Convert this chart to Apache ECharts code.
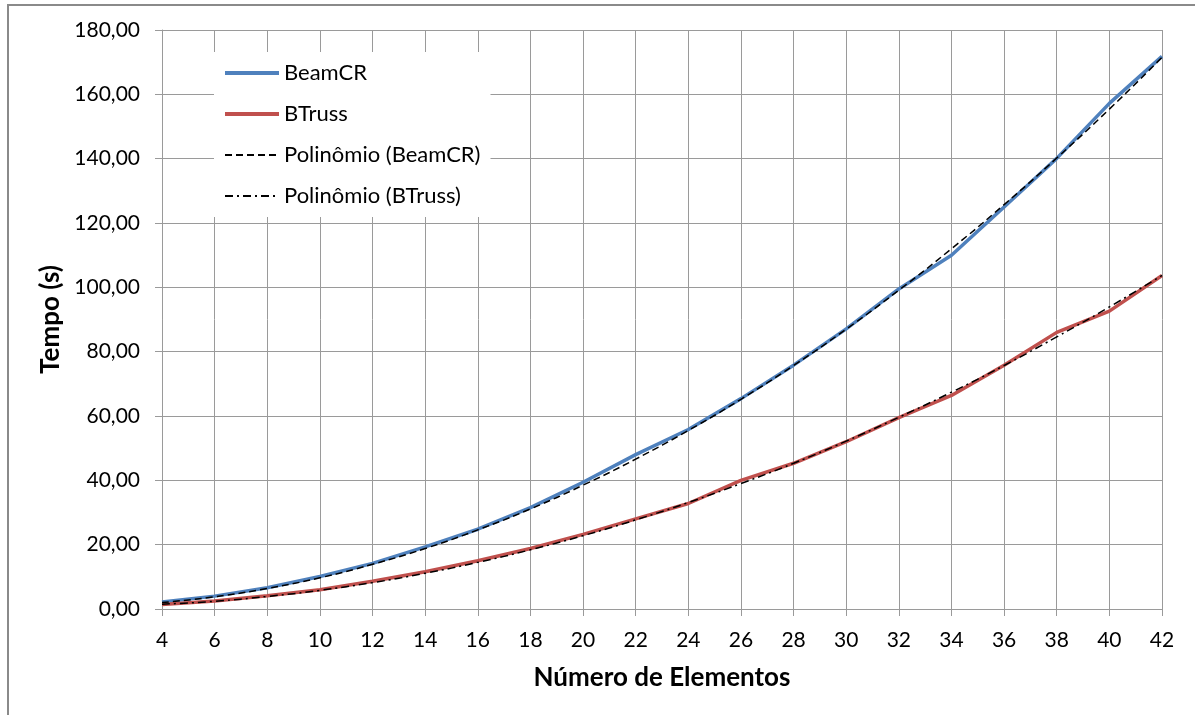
<!DOCTYPE html>
<html>
<head>
<meta charset="utf-8">
<script src="https://cdn.jsdelivr.net/npm/echarts@6/dist/echarts.min.js"></script>
<style>
html,body{margin:0;padding:0;background:#fff;}
#chart{width:1195px;height:715px;}
</style>
</head>
<body>
<div id="chart"></div>
<script>
const categories = ['4','6','8','10','12','14','16','18','20','22','24','26','28','30','32','34','36','38','40','42'];
const beamCR = [2.2, 4.0, 6.6, 10.1, 14.2, 19.3, 24.8, 31.5, 39.4, 48.0, 55.8, 65.4, 75.8, 87.1, 99.5, 110.0, 125.0, 140.1, 157.2, 171.8];
const bTruss = [1.4, 2.5, 4.1, 6.0, 8.6, 11.6, 15.0, 18.8, 23.2, 28.0, 32.8, 40.0, 45.3, 52.0, 59.5, 66.4, 75.8, 86.0, 92.6, 103.7];
const polyBeamCR = [2.0, 3.8, 6.4, 9.7, 13.9, 18.8, 24.6, 31.1, 38.5, 46.6, 55.5, 65.2, 75.7, 87.0, 99.1, 112.0, 125.7, 140.2, 155.4, 171.5];
const polyBTruss = [1.5, 2.4, 3.9, 5.8, 8.2, 11.1, 14.5, 18.4, 22.8, 27.7, 33.1, 39.0, 45.3, 52.2, 59.6, 67.4, 75.7, 84.6, 93.9, 103.7];
const seriesNames = ['BeamCR', 'BTruss', 'Polinômio (BeamCR)', 'Polinômio (BTruss)'];
const xTitle = 'Número de Elementos';
const yTitle = 'Tempo (s)';

const FONT = 'Lato, "Open Sans", sans-serif';
const GRID = '#9a9a9a';

const chart = echarts.init(document.getElementById('chart'), null, {renderer: 'canvas'});
chart.setOption({
  animation: false,
  backgroundColor: '#fff',
  textStyle: {fontFamily: FONT},
  graphic: [{
    type: 'rect', silent: true, z: 0,
    shape: {x: 8, y: 5, width: 1300, height: 800},
    style: {fill: 'none', stroke: '#8a8a8a', lineWidth: 2}
  }],
  grid: {left: 162, right: 33, top: 30, bottom: 106, containLabel: false},
  legend: {
    data: [
      {name: seriesNames[0], lineStyle: {width: 4}},
      {name: seriesNames[1], lineStyle: {width: 4}},
      {name: seriesNames[2]},
      {name: seriesNames[3]}
    ],
    orient: 'vertical',
    left: 214, top: 52,
    padding: [10, 10, 10, 9],
    backgroundColor: '#fff',
    itemWidth: 54, itemHeight: 22, itemGap: 19,
    itemStyle: {opacity: 0},
    textStyle: {fontFamily: FONT, fontSize: 22, color: '#000', lineHeight: 22}
  },
  xAxis: {
    type: 'category',
    data: categories,
    boundaryGap: false,
    name: xTitle,
    nameLocation: 'middle',
    nameGap: 56,
    nameTextStyle: {fontFamily: FONT, fontSize: 26, fontWeight: 'bold', color: '#000'},
    axisLine: {lineStyle: {color: GRID, width: 1}},
    axisTick: {show: true, inside: false, length: 7, alignWithLabel: true, lineStyle: {color: GRID}},
    axisLabel: {fontFamily: FONT, fontSize: 21, color: '#000', margin: 21},
    splitLine: {show: true, lineStyle: {color: GRID, width: 1}}
  },
  yAxis: {
    type: 'value',
    min: 0, max: 180, interval: 20,
    name: yTitle,
    nameLocation: 'middle',
    nameGap: 94,
    nameRotate: 90,
    nameTextStyle: {fontFamily: FONT, fontSize: 26, fontWeight: 'bold', color: '#000'},
    axisLine: {show: true, lineStyle: {color: GRID, width: 1}},
    axisTick: {show: true, inside: false, length: 7, lineStyle: {color: GRID}},
    axisLabel: {fontFamily: FONT, fontSize: 21, color: '#000', margin: 22,
      formatter: v => v.toFixed(2).replace('.', ',')},
    splitLine: {show: true, lineStyle: {color: GRID, width: 1}}
  },
  series: [
    {name: seriesNames[0], type: 'line', data: beamCR, symbol: 'none', z: 2,
      lineStyle: {color: '#4F81BD', width: 3.5}, itemStyle: {color: '#4F81BD'}},
    {name: seriesNames[1], type: 'line', data: bTruss, symbol: 'none', z: 2,
      lineStyle: {color: '#C0504D', width: 3.5}, itemStyle: {color: '#C0504D'}},
    {name: seriesNames[2], type: 'line', data: polyBeamCR, symbol: 'none', smooth: true, z: 3,
      lineStyle: {color: '#000', width: 1.5, type: [7, 4]}, itemStyle: {color: '#000'}},
    {name: seriesNames[3], type: 'line', data: polyBTruss, symbol: 'none', smooth: true, z: 3,
      lineStyle: {color: '#000', width: 1.5, type: [8, 4, 2, 4]}, itemStyle: {color: '#000'}}
  ]
});
</script>
</body>
</html>
